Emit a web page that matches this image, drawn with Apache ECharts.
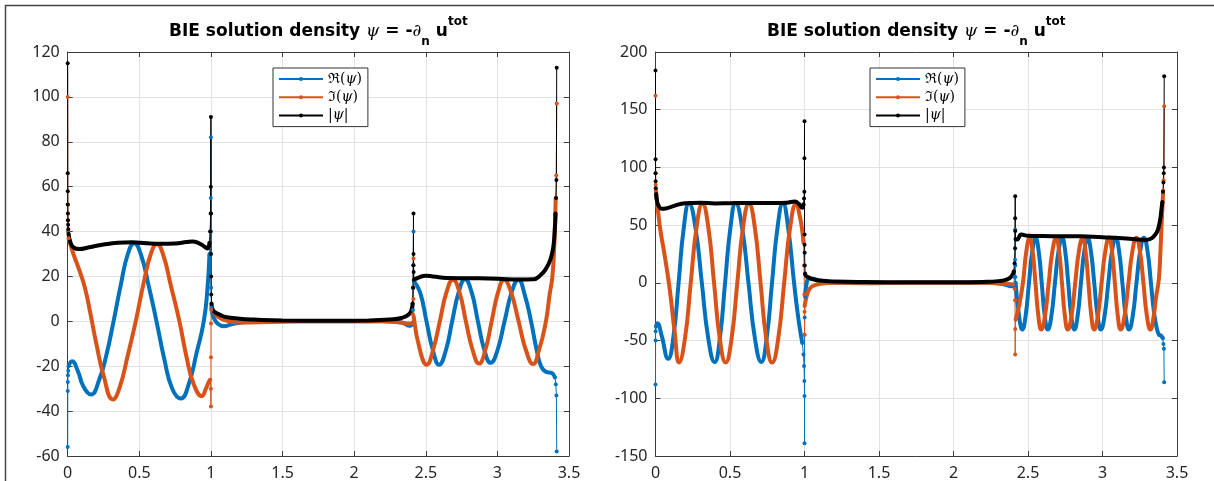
<!DOCTYPE html>
<html><head><meta charset="utf-8">
<script src="https://cdn.jsdelivr.net/npm/echarts@6/dist/echarts.min.js"></script>
<style>html,body{margin:0;padding:0;background:#fff}#c{width:1214px;height:481px}</style>
</head><body><div id="c"></div>
<script>
// ---------------- data ----------------
const xTicks = [0, 0.5, 1, 1.5, 2, 2.5, 3, 3.5];
const leftYTicks = [-60, -40, -20, 0, 20, 40, 60, 80, 100, 120];
const rightYTicks = [-150, -100, -50, 0, 50, 100, 150, 200];
const seriesNames = ['re', 'im', 'abs'];

// Left panel: Re(psi)
const leftReSpikes = [
  [[0,-56],[0.0005,-31],[0.001,-27],[0.002,-24],[0.004,-22],[0.006,-20]],
  [[0.99,30],[0.996,40],[0.999,55],[1.0,82],[1.0003,40],[1.001,15],[1.004,6]],
  [[2.405,-1],[2.41,5],[2.412,15],[2.4142,40],[2.4146,25],[2.416,18]],
  [[3.402,-25],[3.408,-28],[3.412,-33],[3.4142,-58]]
];
const leftReBody = [
  [[0.006,-20],[0.03,-17.8],[0.07,-22],[0.11,-29],[0.163,-32.6],[0.22,-26],[0.27,-15],[0.32,0],[0.37,16],[0.42,30],[0.465,34.8],[0.51,30],[0.565,16],[0.62,0],[0.675,-17],[0.73,-30],[0.79,-34.4],[0.845,-28],[0.9,-14],[0.95,0],[0.975,14],[0.99,30]],
  [[1.004,6],[1.02,1.5],[1.05,-1.2],[1.09,-2.2],[1.15,-1.2],[1.25,-0.3],[1.4,0],[2.2,0],[2.33,-0.5],[2.39,-2],[2.405,-1]],
  [[2.416,18],[2.46,13],[2.505,0],[2.55,-13],[2.593,-19.3],[2.64,-13],[2.684,0],[2.73,13],[2.774,18.8],[2.82,13],[2.864,0],[2.91,-13],[2.953,-18.5],[3.0,-13],[3.05,0],[3.1,13],[3.147,18.5],[3.19,12],[3.235,0],[3.275,-13],[3.305,-20],[3.34,-22.5],[3.38,-23],[3.402,-25]]
];
// Left panel: Im(psi)
const leftImSpikes = [
  [[0,100],[0.0005,52],[0.001,45],[0.003,40],[0.006,37]],
  [[0.995,-26],[0.9995,-30],[1.0,-38],[1.0002,-16],[1.0005,-1],[1.002,5]],
  [[2.405,-1],[2.41,3],[2.413,10],[2.4142,28],[2.4146,15],[2.416,2]],
  [[3.407,55],[3.411,65],[3.4142,97]]
];
const leftImBody = [
  [[0.006,37],[0.04,30],[0.08,23],[0.12,15],[0.16,3],[0.2,-10],[0.25,-24],[0.316,-34.8],[0.36,-30],[0.42,-15],[0.475,0],[0.53,17],[0.58,30],[0.623,34.4],[0.665,30],[0.72,16],[0.78,0],[0.83,-16],[0.88,-28],[0.937,-33.3],[0.965,-30],[0.985,-27],[0.995,-26]],
  [[1.002,5],[1.02,4],[1.05,2],[1.1,0.5],[1.2,-0.5],[1.35,-0.4],[1.6,0],[2.2,0],[2.33,-0.5],[2.38,-1],[2.405,-1]],
  [[2.416,2],[2.46,-13],[2.507,-19.3],[2.55,-13],[2.598,0],[2.645,13],[2.69,18.5],[2.735,13],[2.78,0],[2.828,-13],[2.872,-18.8],[2.915,-13],[2.96,0],[3.005,13],[3.047,18.5],[3.095,13],[3.148,0],[3.2,-13],[3.249,-19],[3.29,-13],[3.337,-0.7],[3.365,12],[3.384,20],[3.398,35],[3.407,55]]
];
// Left panel: |psi|
const leftAbsSpikes = [
  [[0,115],[0.0003,66],[0.0006,58],[0.001,52],[0.0015,48],[0.002,45],[0.003,43],[0.004,41],[0.006,39]],
  [[0.99,35],[0.995,40],[0.998,48],[0.999,60],[1.0,91],[1.0002,48],[1.0005,30],[1.001,20],[1.002,12],[1.004,8]],
  [[2.408,8],[2.411,15],[2.413,25],[2.4142,48],[2.4145,30],[2.415,22],[2.417,18.5]],
  [[3.406,48],[3.41,55],[3.412,63],[3.4142,113]]
];
const leftAbsBody = [
  [[0.006,39],[0.02,35],[0.04,33],[0.08,32.2],[0.15,33],[0.25,34.2],[0.35,35],[0.45,35.2],[0.55,34.8],[0.65,34.6],[0.75,34.7],[0.83,35.3],[0.87,35.6],[0.91,35],[0.95,33.5],[0.975,32.5],[0.99,35]],
  [[1.004,8],[1.01,5.5],[1.03,4],[1.06,3],[1.1,2],[1.2,1.2],[1.3,0.8],[1.5,0.4],[1.8,0.3],[2.1,0.4],[2.25,0.8],[2.33,1.5],[2.38,3],[2.4,5],[2.408,8]],
  [[2.417,18.5],[2.45,19.5],[2.5,20.3],[2.55,20],[2.65,19.3],[2.8,19.2],[3.0,19],[3.15,18.6],[3.25,18.7],[3.3,20.5],[3.34,23.5],[3.37,27.5],[3.39,33],[3.4,40],[3.406,48]]
];

// Right panel: Re(psi)
const rightReSpikes = [
  [[0,-88],[0.0005,-50],[0.001,-42],[0.003,-38]],
  [[0.985,-52],[0.993,-62],[0.997,-72],[0.999,-85],[1.0,-98],[1.0002,-139],[1.0005,-45],[1.001,-30],[1.004,-12]],
  [[2.405,-2],[2.41,5],[2.413,20],[2.4142,46],[2.4145,15],[2.415,5],[2.417,0]],
  [[3.405,-48],[3.409,-53],[3.412,-57],[3.4142,-86]]
];
const rightReBody = [
  [[0.003,-38],[0.013,-35],[0.04,-45],[0.085,-65.7],[0.12,-47],[0.155,0],[0.19,48],[0.225,69],[0.268,48],[0.311,0],[0.354,-48],[0.397,-68.6],[0.432,-48],[0.467,0],[0.503,48],[0.538,69],[0.581,48],[0.624,0],[0.667,-48],[0.71,-68.6],[0.746,-48],[0.782,0],[0.819,48],[0.855,69],[0.89,48],[0.93,0],[0.96,-32],[0.985,-52]],
  [[1.004,-12],[1.015,0],[1.03,4],[1.06,3.5],[1.1,2],[1.2,0.3],[1.4,-0.3],[1.7,0],[2.2,0],[2.33,-1],[2.39,-3],[2.405,-2]],
  [[2.417,0],[2.44,-28.6],[2.462,-40.5],[2.484,-28.6],[2.5065,0],[2.529,27.6],[2.551,39],[2.5715,27.6],[2.592,0],[2.6125,-28.6],[2.633,-40.5],[2.657,-28.6],[2.681,0],[2.705,27.6],[2.729,39],[2.7495,27.6],[2.77,0],[2.7905,-28.6],[2.811,-40.5],[2.833,-28.6],[2.8555,0],[2.878,27.6],[2.9,39],[2.922,27.6],[2.9445,0],[2.967,-28.6],[2.989,-40.5],[3.014,-28.6],[3.039,0],[3.064,27.6],[3.089,39],[3.111,27.6],[3.1335,0],[3.156,-28.6],[3.178,-40.5],[3.203,-28.6],[3.228,0],[3.253,27.6],[3.278,39],[3.302,27.6],[3.325,0],[3.345,-25],[3.362,-38],[3.378,-44.7],[3.395,-46],[3.405,-48]]
];
// Right panel: Im(psi)
const rightImSpikes = [
  [[0,162],[0.0005,95],[0.001,85],[0.003,80]],
  [[0.993,35],[0.997,15],[0.999,-10],[1.0,-45],[1.0003,-25],[1.001,-20]],
  [[2.4,-1.5],[2.41,-5],[2.413,-15],[2.4142,-62],[2.4145,-40],[2.417,-32]],
  [[3.407,80],[3.41,89],[3.4142,153]]
];
const rightImBody = [
  [[0.003,80],[0.029,49],[0.0625,23],[0.096,-6],[0.129,-43],[0.158,-69],[0.197,-48.8],[0.2365,0],[0.276,48.5],[0.315,68.6],[0.354,48.5],[0.393,0],[0.432,-48.8],[0.471,-69],[0.51,-48.8],[0.549,0],[0.588,48.5],[0.627,68.6],[0.666,48.5],[0.705,0],[0.744,-48.8],[0.783,-69],[0.823,-48.8],[0.8635,0],[0.904,48.5],[0.944,68.6],[0.968,58],[0.985,45],[0.993,35]],
  [[1.001,-20],[1.01,-14],[1.03,-6],[1.06,-2.5],[1.1,-1],[1.2,0],[1.5,0.2],[2.2,0],[2.35,-0.5],[2.4,-1.5]],
  [[2.417,-32],[2.44,-20],[2.466,0],[2.489,27.6],[2.511,39],[2.5305,27.6],[2.55,0],[2.5695,-28.6],[2.589,-40.5],[2.614,-28.6],[2.639,0],[2.664,27.6],[2.689,39],[2.7085,27.6],[2.728,0],[2.7475,-28.6],[2.767,-40.5],[2.792,-28.6],[2.817,0],[2.842,27.6],[2.867,39],[2.886,27.6],[2.9055,0],[2.925,-28.6],[2.944,-40.5],[2.969,-28.6],[2.994,0],[3.019,27.6],[3.044,39],[3.0635,27.6],[3.083,0],[3.1025,-28.6],[3.122,-40.5],[3.148,-28.6],[3.1745,0],[3.201,27.6],[3.227,39],[3.251,27.6],[3.2745,0],[3.298,-28.6],[3.322,-40.5],[3.342,-30],[3.36,-12],[3.378,3],[3.388,25],[3.395,46],[3.402,65],[3.407,80]]
];
// Right panel: |psi|
const rightAbsSpikes = [
  [[0,184],[0.0003,107],[0.0006,95],[0.001,88],[0.002,82],[0.004,77]],
  [[0.993,68],[0.997,73],[0.999,79],[0.9995,108],[1.0,140],[1.0003,42],[1.0006,33],[1.001,26],[1.002,15],[1.004,8]],
  [[2.405,10],[2.41,17],[2.413,30],[2.4138,56],[2.4142,75],[2.4145,45],[2.416,38]],
  [[3.402,70],[3.406,79],[3.409,87],[3.411,95],[3.4125,100],[3.4142,179]]
];
const rightAbsBody = [
  [[0.004,77],[0.01,71],[0.02,67],[0.04,64.3],[0.07,64.5],[0.12,66.5],[0.2,69],[0.3,69.5],[0.4,68.8],[0.5,69],[0.6,69.2],[0.7,69.2],[0.8,69.2],[0.88,69.5],[0.935,70.5],[0.965,68],[0.985,65],[0.993,68]],
  [[1.004,8],[1.01,6],[1.03,4.5],[1.06,3],[1.1,2],[1.2,1.2],[1.4,0.7],[1.7,0.5],[2.0,0.5],[2.2,0.8],[2.3,1.5],[2.36,3],[2.39,5.8],[2.405,10]],
  [[2.416,38],[2.427,37.5],[2.455,41.8],[2.5,40.8],[2.6,40.5],[2.7,40.4],[2.85,40.3],[3.0,39.5],[3.11,38.9],[3.2,38],[3.29,37.2],[3.32,38],[3.344,40.3],[3.365,44],[3.378,49],[3.39,57],[3.395,63],[3.402,70]]
];

// ---------------- chart ----------------
const COLORS = { re: '#0072BD', im: '#D95319', abs: '#000000' };
const AXIS = '#3c3c3c';
const TXT = '#262626';

function joinSegs(segs) {
  const out = [];
  segs.forEach((s, i) => { if (i) out.push([NaN, NaN]); s.forEach(p => out.push(p)); });
  return out;
}
function spike(name, segs, idx) {
  return { type: 'line', name, xAxisIndex: idx * 2, yAxisIndex: idx * 2, data: joinSegs(segs),
    symbol: 'circle', symbolSize: 4, showSymbol: true, showAllSymbol: true, clip: false,
    lineStyle: { width: 1, color: COLORS[name] }, itemStyle: { color: COLORS[name] },
    connectNulls: false, silent: true, animation: false, z: 2 };
}
function body(name, segs, idx) {
  return { type: 'line', name, xAxisIndex: idx * 2, yAxisIndex: idx * 2, data: joinSegs(segs),
    symbol: 'none', showSymbol: false, smooth: 0.5, clip: false,
    lineStyle: { width: 4, color: COLORS[name] }, itemStyle: { color: COLORS[name] },
    connectNulls: false, silent: true, animation: false, z: 2 };
}
function xAx(grid, top) {
  return { type: 'value', gridIndex: grid, position: top ? 'top' : 'bottom',
    min: xTicks[0], max: xTicks[xTicks.length - 1], interval: xTicks[1] - xTicks[0],
    axisLine: { show: true, onZero: false, lineStyle: { color: AXIS, width: 1 } },
    axisTick: { show: true, inside: true, length: 5, lineStyle: { color: AXIS } },
    axisLabel: { show: !top, margin: 9, color: TXT, fontFamily: 'Noto Sans', fontSize: 16 },
    splitLine: { show: !top, lineStyle: { color: '#e2e2e2', width: 1 } } };
}
function yAx(grid, ticks, right) {
  return { type: 'value', gridIndex: grid, position: right ? 'right' : 'left',
    min: ticks[0], max: ticks[ticks.length - 1], interval: ticks[1] - ticks[0],
    axisLine: { show: true, onZero: false, lineStyle: { color: AXIS, width: 1 } },
    axisTick: { show: true, inside: true, length: 5, lineStyle: { color: AXIS } },
    axisLabel: { show: !right, margin: 8, color: TXT, fontFamily: 'Noto Sans', fontSize: 16 },
    splitLine: { show: !right, lineStyle: { color: '#e2e2e2', width: 1 } } };
}
const legendRich = {
  r: { fontFamily: 'DejaVu Serif', fontSize: 14, color: '#000' },
  i: { fontFamily: 'DejaVu Serif', fontStyle: 'italic', fontSize: 14, color: '#000' }
};
const legendText = { re: '{r|ℜ(}{i|ψ}{r|)}', im: '{r|ℑ(}{i|ψ}{r|)}', abs: '{r||}{i|ψ}{r||}' };
function legend(left) {
  return { show: true, orient: 'vertical', left, top: 68, data: seriesNames,
    formatter: n => legendText[n], selectedMode: false,
    itemWidth: 44, itemHeight: 5, itemGap: 4.3,
    padding: [4, 6, 4, 5], borderColor: '#333', borderWidth: 1, backgroundColor: '#fff',
    textStyle: { rich: legendRich, lineHeight: 14 } };
}
const titleRich = {
  b: { fontFamily: 'DejaVu Sans', fontWeight: 'bold', fontSize: 17, lineHeight: 32, fill: '#000' },
  i: { fontFamily: 'DejaVu Serif', fontStyle: 'italic', fontSize: 17, lineHeight: 32, fill: '#000' },
  s: { fontFamily: 'DejaVu Sans', fontWeight: 'bold', fontSize: 12, lineHeight: 12, verticalAlign: 'bottom', fill: '#000' },
  p: { fontFamily: 'DejaVu Sans', fontWeight: 'bold', fontSize: 12, lineHeight: 18, verticalAlign: 'top', fill: '#000' }
};
const titleStr = '{b|BIE solution density }{i|ψ}{b| = -}{i|∂}{s|n}{b| u}{p|tot}';
function titleEl(cx) {
  return { type: 'text', x: cx, y: 16, silent: true,
    style: { text: titleStr, rich: titleRich, align: 'center', verticalAlign: 'top', textAlign: 'center', fill: '#000' } };
}

const chart = echarts.init(document.getElementById('c'), null, { renderer: 'canvas' });
const g0 = { left: 67.7, top: 52, width: 501.3, height: 404 };
const g1 = { left: 655.5, top: 52, width: 521.5, height: 404 };
chart.setOption({
  animation: false,
  backgroundColor: '#fff',
  grid: [Object.assign({ containLabel: false }, g0), Object.assign({ containLabel: false }, g1)],
  xAxis: [xAx(0, false), xAx(0, true), xAx(1, false), xAx(1, true)],
  yAxis: [yAx(0, leftYTicks, false), yAx(0, leftYTicks, true), yAx(1, rightYTicks, false), yAx(1, rightYTicks, true)],
  legend: [legend(273), legend(870)],
  series: [
    spike('re', leftReSpikes, 0), spike('im', leftImSpikes, 0), spike('abs', leftAbsSpikes, 0),
    body('re', leftReBody, 0), body('im', leftImBody, 0), body('abs', leftAbsBody, 0),
    spike('re', rightReSpikes, 1), spike('im', rightImSpikes, 1), spike('abs', rightAbsSpikes, 1),
    body('re', rightReBody, 1), body('im', rightImBody, 1), body('abs', rightAbsBody, 1)
  ],
  graphic: [
    titleEl(g0.left + g0.width / 2), titleEl(g1.left + g1.width / 2),
    { type: 'line', silent: true, shape: { x1: 5, y1: 5.5, x2: 1214, y2: 5.5 }, style: { stroke: '#444', lineWidth: 1.5 } },
    { type: 'line', silent: true, shape: { x1: 5.5, y1: 5, x2: 5.5, y2: 481 }, style: { stroke: '#444', lineWidth: 1.5 } }
  ]
});
</script></body></html>
